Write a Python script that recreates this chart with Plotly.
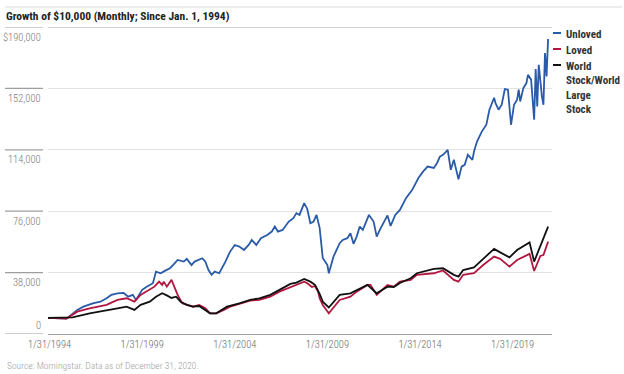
import pandas as pd
import plotly.graph_objects as go

# ---------------- data ----------------
series_names = ["Unloved", "Loved", "World Stock/World Large Stock"]
legend_labels = ["Unloved", "Loved", "World<br>Stock/World<br>Large<br>Stock"]
series_colors = ["#2a5ba8", "#b3173f", "#111111"]

# months elapsed since 12/31/1993 (growth of $10,000)
unloved_month = [0, 12, 19, 23, 29, 34, 38, 41, 45, 49, 52, 55, 57, 61, 64, 68, 70, 73, 76, 79,
                 81, 84, 88, 90, 93, 95, 100, 102, 104, 106, 108, 111, 115, 118, 121, 124, 127,
                 130, 132, 135, 138, 142, 145, 147, 149, 152, 156, 159, 161, 163, 166, 168, 170,
                 172, 174, 176, 178, 181, 182, 185, 187, 189, 191, 194, 196, 198, 200, 202, 204,
                 208, 211, 213, 215, 220, 222, 225, 228, 232, 236, 240, 243, 246, 250, 252, 254,
                 256, 258, 259, 261, 263, 264, 266, 268, 270, 272, 275, 276, 278, 281, 284, 286,
                 289, 290, 292, 294, 296, 298, 299, 300, 302, 304, 305, 306, 308, 310, 311, 313,
                 315, 316, 317, 318, 320, 321, 322, 323, 324]
unloved_value = [10000, 9500, 14900, 16900, 19000, 20000, 22100, 24200, 25200, 25400, 23100, 24200,
                 21100, 27300, 29300, 31400, 38600, 37600, 39200, 40700, 42700, 45800, 44800, 46500,
                 42700, 44800, 46900, 44800, 39600, 36600, 38600, 37600, 44800, 51000, 55100, 54100,
                 52000, 55100, 58200, 55100, 59300, 61300, 63400, 66500, 63400, 64400, 69600, 71700,
                 74800, 73700, 81000, 77400, 68600, 69400, 73700, 65700, 47100, 42700, 37600, 47900,
                 52000, 56200, 58200, 59300, 62400, 55800, 60300, 66500, 64400, 73700, 69600, 60300,
                 64400, 73400, 66900, 73700, 76800, 84100, 89200, 96500, 100500, 103600, 102800,
                 105700, 109800, 110900, 112900, 114000, 101600, 107800, 103600, 95800, 103600,
                 104700, 110900, 107800, 112900, 119100, 125100, 129500, 138800, 146200, 142900,
                 138800, 141900, 151600, 151200, 140800, 129500, 141900, 145000, 151200, 143900,
                 152200, 155300, 160400, 157400, 132600, 164000, 140800, 166600, 147000, 141900,
                 173900, 159400, 182600]

loved_month = [0, 12, 19, 27, 38, 45, 51, 56, 60, 66, 69, 72, 74, 75, 77, 80, 82, 84, 87, 90, 94,
               98, 102, 105, 109, 114, 118, 124, 131, 137, 144, 150, 157, 161, 166, 168, 171, 173,
               175, 176, 178, 182, 185, 189, 196, 200, 207, 209, 213, 220, 224, 228, 235, 239, 250,
               256, 263, 266, 269, 276, 282, 289, 293, 299, 304, 312, 315, 319, 321, 324]
loved_value = [10000, 9600, 13800, 15900, 18000, 21100, 22100, 20000, 24200, 27300, 29300, 32400,
               30400, 32400, 29300, 33500, 28300, 24200, 19000, 18000, 16900, 18000, 15900, 12800,
               12800, 14900, 16900, 18600, 20600, 21100, 23100, 26200, 28800, 30400, 32400, 31400,
               29100, 29700, 26200, 22100, 18000, 12800, 16400, 21100, 23100, 26200, 30400, 30400,
               24200, 30400, 29300, 32400, 33500, 36600, 37600, 39300, 33500, 32400, 36600, 37600,
               42700, 47900, 46500, 41700, 45800, 49600, 39000, 48300, 48900, 57200]

world_month = [0, 16, 27, 38, 45, 51, 56, 60, 66, 70, 74, 77, 80, 83, 86, 90, 94, 98, 103, 105,
               109, 116, 124, 131, 137, 144, 150, 157, 161, 166, 170, 173, 176, 178, 182, 185, 189,
               196, 200, 207, 213, 220, 224, 228, 235, 239, 250, 256, 263, 266, 269, 276, 282, 289,
               293, 299, 304, 312, 315, 319, 321, 324]
world_value = [10000, 10300, 12800, 14900, 15900, 16900, 14900, 18000, 20000, 23100, 25200, 23900,
               22300, 23100, 20000, 18000, 16900, 17300, 13800, 12800, 12800, 16900, 19000, 21100,
               22100, 24200, 27300, 31000, 31800, 34100, 32400, 30400, 24800, 20000, 16400, 19500,
               24200, 25200, 27300, 30400, 25200, 29300, 29100, 31600, 34500, 37600, 40300, 40700,
               36600, 35500, 39600, 41200, 46500, 52700, 50500, 47400, 52000, 56700, 44800, 54200,
               58200, 66500]

ytick_values = [0, 38000, 76000, 114000, 152000, 190000]
ytick_labels = ["0", "38,000", "76,000", "114,000", "152,000", "$190,000"]
xtick_dates = ["1994-01-31", "1999-01-31", "2004-01-31", "2009-01-31", "2014-01-31", "2019-01-31"]
xtick_labels = ["1/31/1994", "1/31/1999", "1/31/2004", "1/31/2009", "1/31/2014", "1/31/2019"]

title_text = "Growth of $10,000 (Monthly; Since Jan. 1, 1994)"
source_text = "Source: Morningstar. Data as of December 31, 2020."

# ---------------- figure ----------------
W, H = 624, 374
ML, MR, MT, MB = 48, 72, 27, 40
PW, PH = W - ML - MR, H - MT - MB
FONT = ("Roboto Condensed, Noto Sans Condensed, DejaVu Sans Condensed, "
        "Liberation Sans Narrow, Arial Narrow, Liberation Sans, sans-serif")


def px_x(px):
    return (px - ML) / PW


def px_y(py):
    return (H - MB - py) / PH


def to_dates(months):
    base = pd.Timestamp("1993-12-31")
    return [base + pd.offsets.MonthEnd(int(m)) if m else base for m in months]


fig = go.Figure()
for name, months, values, color in zip(series_names,
                                      [unloved_month, loved_month, world_month],
                                      [unloved_value, loved_value, world_value],
                                      series_colors):
    fig.add_trace(go.Scatter(x=to_dates(months), y=values, name=name, mode="lines",
                             line=dict(color=color, width=1.8), showlegend=False))

shapes = []
annotations = []

# left-margin short rules + y labels (below the rule, the zero label above it)
for v, lab in zip(ytick_values, ytick_labels):
    shapes.append(dict(type="line", xref="paper", yref="y", x0=px_x(5), x1=px_x(43), y0=v, y1=v,
                       line=dict(color="#9e9e9e", width=1.2)))
    annotations.append(dict(xref="paper", yref="y", x=px_x(43), y=v, yshift=(9 if v == 0 else -10),
                            text=lab, showarrow=False, xanchor="right", yanchor="middle",
                            font=dict(family=FONT, size=10.5, color="#7a7a7a", weight=300)))

# darker top rule of the plot
shapes.append(dict(type="line", xref="paper", yref="y", x0=0, x1=1, y0=ytick_values[-1],
                   y1=ytick_values[-1], line=dict(color="#a8a8a8", width=1.2)))
# thin rule above title
shapes.append(dict(type="line", xref="paper", yref="paper", x0=px_x(5), x1=px_x(622),
                   y0=px_y(7), y1=px_y(7), line=dict(color="#dcdcdc", width=1)))

# manual legend
legend_y = [33, 49, 65]
for lab, color, ly in zip(legend_labels, series_colors, legend_y):
    shapes.append(dict(type="line", xref="paper", yref="paper", x0=px_x(553), x1=px_x(561),
                       y0=px_y(ly), y1=px_y(ly), line=dict(color=color, width=2)))
    annotations.append(dict(xref="paper", yref="paper", x=px_x(564), y=px_y(ly - 7.5),
                            text="<b>" + lab + "</b>", showarrow=False, xanchor="left",
                            yanchor="top", align="left",
                            font=dict(family=FONT, size=11, color="#333333")))

# source
annotations.append(dict(xref="paper", yref="paper", x=px_x(5), y=px_y(365), text=source_text,
                        showarrow=False, xanchor="left", yanchor="middle",
                        font=dict(family=FONT, size=9.5, color="#a0a0a0", weight=300)))

fig.update_layout(
    width=W, height=H,
    margin=dict(l=ML, r=MR, t=MT, b=MB, pad=0),
    paper_bgcolor="white", plot_bgcolor="white",
    title=dict(text="<b>" + title_text + "</b>", x=6 / W, xanchor="left", y=1 - 16 / H,
               yanchor="middle", font=dict(family=FONT, size=11.5, color="#222222")),
    shapes=shapes, annotations=annotations,
    xaxis=dict(type="date", range=["1993-12-31", "2021-03-18"], tickvals=xtick_dates,
               ticktext=xtick_labels, showgrid=False, zeroline=False, showline=True,
               linecolor="#9e9e9e", linewidth=1.2, ticks="",
               tickfont=dict(family=FONT, size=10.5, color="#6a6a6a", weight=300)),
    yaxis=dict(range=[0, 190000], tickvals=ytick_values, showticklabels=False,
               showgrid=True, gridcolor="#e2e2e2", gridwidth=1.2, zeroline=False,
               showline=False, ticks=""),
)

fig.write_html("out.html", config={"displayModeBar": False},
               post_script="document.body.style.margin='0';")
